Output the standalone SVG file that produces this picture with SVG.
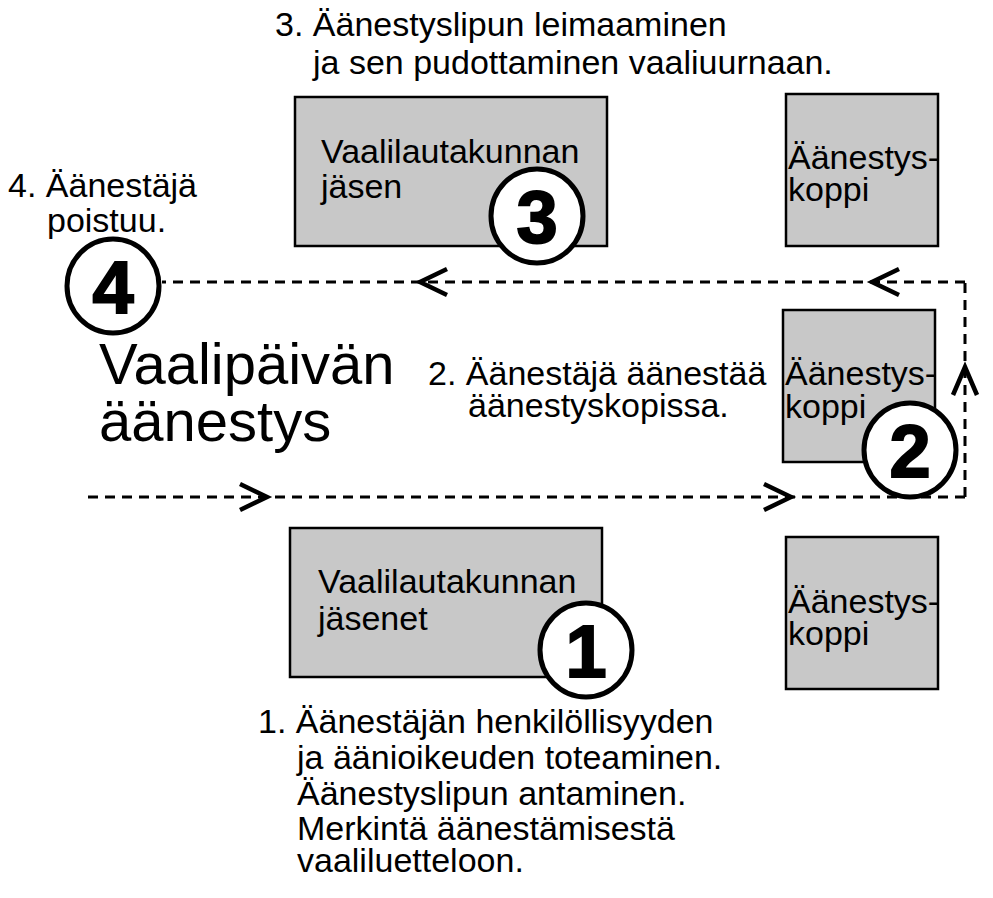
<svg xmlns="http://www.w3.org/2000/svg" width="993" height="898" viewBox="0 0 993 898">
<style>
.t{font-family:"Liberation Sans",Arial,sans-serif;font-size:34px;fill:#000}
.title{font-family:"Liberation Sans",Arial,sans-serif;font-size:58px;fill:#000}
.box{fill:#c8c8c8;stroke:#000;stroke-width:2.5}
.circ{fill:#fff;stroke:#000;stroke-width:5}
.num{font-family:"Liberation Sans",Arial,sans-serif;font-weight:bold;font-size:74px;fill:#000;stroke:#000;stroke-width:2;text-anchor:middle}
.dash{fill:none;stroke:#000;stroke-width:3;stroke-dasharray:10 7}
.chev{fill:none;stroke:#000;stroke-width:4.5}
</style>
<rect width="993" height="898" fill="#fff"/>
<g id="connectors">
<line class="dash" x1="88" y1="497" x2="965" y2="497"/>
<line class="dash" x1="965" y1="497" x2="965" y2="282"/>
<line class="dash" x1="965" y1="282" x2="162" y2="282"/>
<polyline class="chev" points="240,484 267,497 240,510"/>
<polyline class="chev" points="764,484 791,497 764,510"/>
<polyline class="chev" points="953,395 965,367 977,395"/>
<polyline class="chev" points="899,269 872,282 899,295"/>
<polyline class="chev" points="447,269 420,282 447,295"/>
</g>
<g id="title">
<text class="title" x="99" y="384">Vaalipäivän</text>
<text class="title" x="99" y="441">äänestys</text>
</g>
<g id="label3">
<text class="t" x="275" y="36">3. Äänestyslipun leimaaminen</text>
<text class="t" x="313" y="74">ja sen pudottaminen vaaliuurnaan.</text>
</g>
<g id="label4">
<text class="t" x="8" y="197">4. Äänestäjä</text>
<text class="t" x="47" y="232">poistuu.</text>
</g>
<g id="label2">
<text class="t" x="428" y="385">2. Äänestäjä äänestää</text>
<text class="t" x="468" y="417">äänestyskopissa.</text>
</g>
<g id="label1">
<text class="t" x="258" y="733">1. Äänestäjän henkilöllisyyden</text>
<text class="t" x="297" y="769">ja äänioikeuden toteaminen.</text>
<text class="t" x="297" y="805">Äänestyslipun antaminen.</text>
<text class="t" x="297" y="840">Merkintä äänestämisestä</text>
<text class="t" x="297" y="872">vaaliluetteloon.</text>
</g>
<g id="box-jasen">
<rect class="box" x="295" y="97" width="312" height="149"/>
<text class="t" x="321" y="163">Vaalilautakunnan</text>
<text class="t" x="321" y="198">jäsen</text>
</g>
<g id="box-koppi-top">
<rect class="box" x="786" y="94" width="152" height="152"/>
<text class="t" x="788" y="169">Äänestys-</text>
<text class="t" x="788" y="201">koppi</text>
</g>
<g id="box-koppi-mid">
<rect class="box" x="783" y="310" width="152" height="152"/>
<text class="t" x="785" y="385">Äänestys-</text>
<text class="t" x="785" y="418">koppi</text>
</g>
<g id="box-jasenet">
<rect class="box" x="290" y="528" width="312" height="149"/>
<text class="t" x="318" y="593">Vaalilautakunnan</text>
<text class="t" x="318" y="630">jäsenet</text>
</g>
<g id="box-koppi-bot">
<rect class="box" x="786" y="537" width="152" height="152"/>
<text class="t" x="788" y="613">Äänestys-</text>
<text class="t" x="788" y="645">koppi</text>
</g>
<g id="step3">
<ellipse class="circ" cx="537" cy="216" rx="46" ry="47"/>
<text class="num" x="537" y="243">3</text>
</g>
<g id="step4">
<ellipse class="circ" cx="113" cy="286" rx="46" ry="47"/>
<text class="num" x="113" y="313">4</text>
</g>
<g id="step2">
<ellipse class="circ" cx="910" cy="450" rx="46" ry="47"/>
<text class="num" x="910" y="477">2</text>
</g>
<g id="step1">
<ellipse class="circ" cx="586" cy="650" rx="46" ry="47"/>
<text class="num" x="586" y="677">1</text>
</g>
</svg>
